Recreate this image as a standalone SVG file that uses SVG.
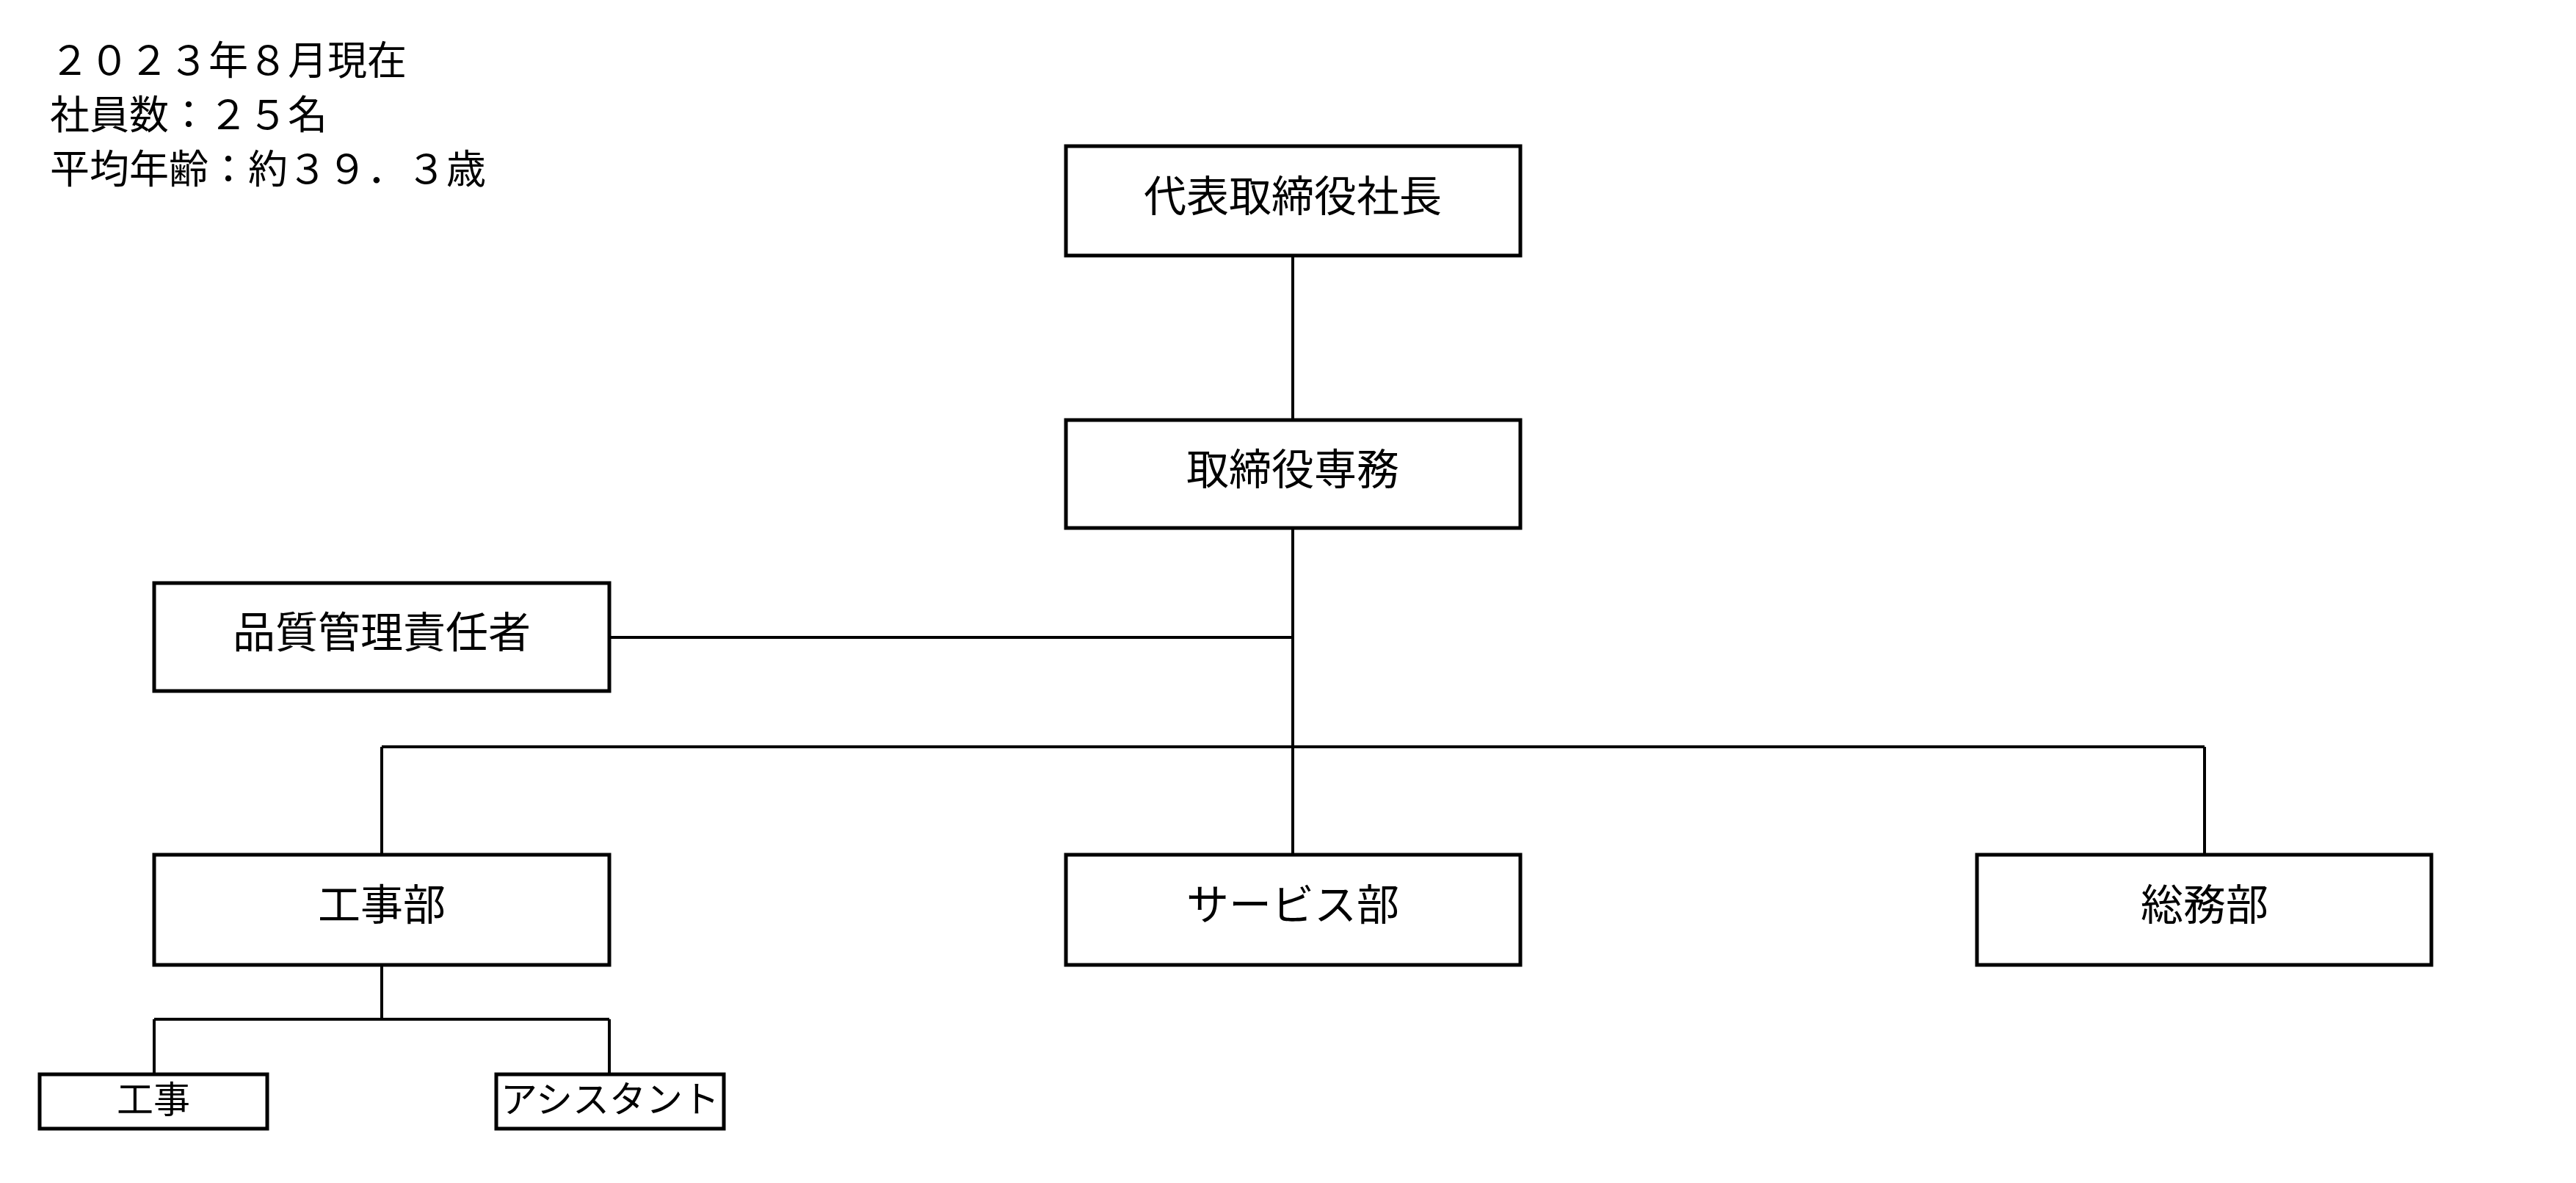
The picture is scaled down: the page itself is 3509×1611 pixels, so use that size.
<svg xmlns="http://www.w3.org/2000/svg" width="3509" height="1611" viewBox="0 0 3509 1611">
<style>
rect{fill:#fff;stroke:#000;stroke-width:5}
line{stroke:#000;stroke-width:4}
text{font-family:"Noto Sans CJK JP","Noto Sans",sans-serif;fill:#000}
.b{font-size:58px;text-anchor:middle}
.s{font-size:50px;text-anchor:middle}
.h{font-size:54px}
</style>
<rect width="3509" height="1611" style="stroke:none"/>
<g id="header">
<text class="h" x="68" y="102">２０２３年８月現在</text>
<text class="h" x="68" y="176">社員数：２５名</text>
<text class="h" x="68" y="250">平均年齢：約３９．３歳</text>
</g>
<g id="connectors">
<line x1="1761" y1="348" x2="1761" y2="572"/>
<line x1="1761" y1="719" x2="1761" y2="1164"/>
<line x1="830" y1="868" x2="1761" y2="868"/>
<line x1="520" y1="1017" x2="3003" y2="1017"/>
<line x1="520" y1="1017" x2="520" y2="1164"/>
<line x1="3003" y1="1017" x2="3003" y2="1164"/>
<line x1="520" y1="1314" x2="520" y2="1388"/>
<line x1="210" y1="1388" x2="830" y2="1388"/>
<line x1="210" y1="1388" x2="210" y2="1463"/>
<line x1="830" y1="1388" x2="830" y2="1463"/>
</g>
<g id="president"><rect x="1452" y="199" width="619" height="149"/><text class="b" x="1761" y="288">代表取締役社長</text></g>
<g id="director"><rect x="1452" y="572" width="619" height="147"/><text class="b" x="1761" y="660">取締役専務</text></g>
<g id="quality"><rect x="210" y="794" width="620" height="147"/><text class="b" x="520" y="882">品質管理責任者</text></g>
<g id="construction"><rect x="210" y="1164" width="620" height="150"/><text class="b" x="520" y="1253">工事部</text></g>
<g id="service"><rect x="1452" y="1164" width="619" height="150"/><text class="b" x="1761" y="1253">サービス部</text></g>
<g id="general"><rect x="2693" y="1164" width="619" height="150"/><text class="b" x="3003" y="1253">総務部</text></g>
<g id="koji"><rect x="54" y="1463" width="310" height="74"/><text class="s" x="209" y="1515">工事</text></g>
<g id="assistant"><rect x="676" y="1463" width="310" height="74"/><text class="s" x="831" y="1515">アシスタント</text></g>
</svg>
